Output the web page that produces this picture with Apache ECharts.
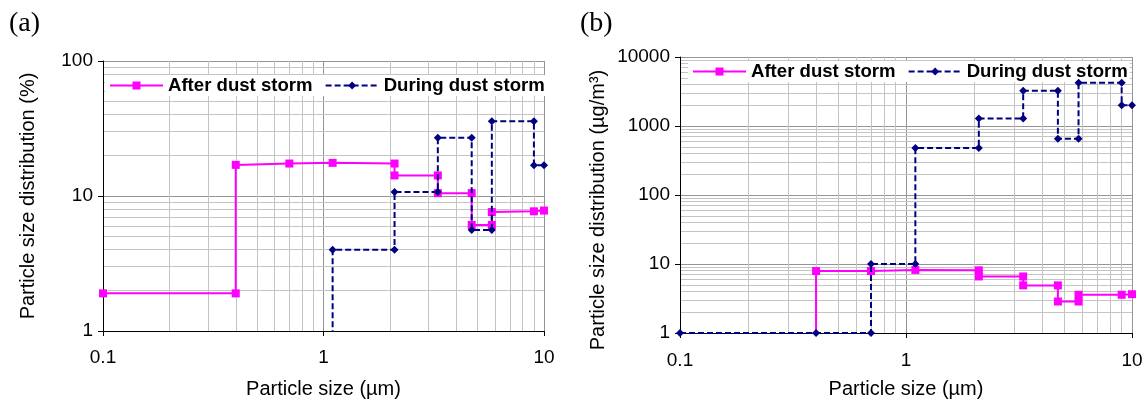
<!DOCTYPE html>
<html>
<head>
<meta charset="utf-8">
<script src="https://cdn.jsdelivr.net/npm/echarts@6/dist/echarts.min.js"></script>
<style>
html,body{margin:0;padding:0;background:#fff;}
#c{width:1148px;height:404px;}
</style>
</head>
<body>
<div id="c"></div>
<script>
// ---- Data ----
const seriesNames = ['After dust storm', 'During dust storm'];

// Panel (a): percentage distribution
const afterA_x  = [0.1, 0.4, 0.4, 0.7, 1.1, 2.1, 2.1, 3.3, 3.3, 4.7, 4.7, 5.8, 5.8, 9, 10];
const afterA_y  = [1.9, 1.9, 17.0, 17.4, 17.6, 17.4, 14.2, 14.2, 10.5, 10.5, 6.1, 6.1, 7.6, 7.7, 7.8];
const duringA_x = [0.1, 0.4, 0.7, 0.7, 1.1, 1.1, 2.1, 2.1, 3.3, 3.3, 4.7, 4.7, 5.8, 5.8, 9, 9, 10];
const duringA_y = [0.0085, 0.0085, 0.0085, 0.085, 0.085, 4.0, 4.0, 10.7, 10.7, 27.0, 27.0, 5.6, 5.6, 35.8, 35.8, 16.9, 16.9];

// Panel (b): mass concentration (µg/m³)
const afterB_x  = [0.1, 0.4, 0.4, 0.7, 1.1, 2.1, 2.1, 3.3, 3.3, 4.7, 4.7, 5.8, 5.8, 9, 10];
const afterB_y  = [0.9, 0.9, 7.9, 7.9, 8.2, 8.1, 6.6, 6.6, 4.9, 4.9, 2.86, 2.86, 3.58, 3.58, 3.65];
const duringB_x = [0.1, 0.4, 0.7, 0.7, 1.1, 1.1, 2.1, 2.1, 3.3, 3.3, 4.7, 4.7, 5.8, 5.8, 9, 9, 10];
const duringB_y = [1, 1, 1, 10, 10, 478, 478, 1280, 1280, 3230, 3230, 654, 654, 4230, 4230, 2000, 2000];

// Tick ranges
const xRange  = [0.1, 10];
const yRangeA = [1, 100];
const yRangeB = [1, 10000];

// ---- helpers ----
function pairs(xs, ys){ return xs.map((x,i)=>[x, ys[i]]); }
function minorValues(lo, hi){
  const out = [];
  for (let d = lo; d < hi - 1e-12; d *= 10) {
    for (let k = 2; k <= 9; k++) out.push(+(k*d).toPrecision(6));
  }
  return out;
}
const fmt = v => String(+(+v).toPrecision(6));

const FONT = '"Liberation Sans", Arial, sans-serif';
const SERIF = '"Liberation Serif", "Times New Roman", serif';
const MAJOR = '#959595';
const MINOR = '#c4c4c4';

function xAxisCfg(gridIndex, margin, gap){
  return {
    type:'log', logBase:10, gridIndex, min:xRange[0], max:xRange[1],
    name:'Particle size (µm)', nameLocation:'middle', nameGap:gap,
    nameTextStyle:{fontFamily:FONT, fontSize:20, color:'#000'},
    axisLine:{show:true, onZero:false, lineStyle:{color:'#000', width:1}},
    axisTick:{show:true, inside:false, length:5, lineStyle:{color:'#000'}},
    axisLabel:{fontFamily:FONT, fontSize:19, color:'#000', margin, formatter:fmt},
    splitLine:{show:true, lineStyle:{color:MAJOR, width:1}},
    minorTick:{show:false}, minorSplitLine:{show:false}
  };
}
function yAxisCfg(gridIndex, range, name, gap, pad){
  return {
    type:'log', logBase:10, gridIndex, min:range[0], max:range[1],
    name, nameLocation:'middle', nameGap:gap, nameRotate:90,
    nameTextStyle:{fontFamily:FONT, fontSize:20, color:'#000', padding:pad},
    axisLine:{show:true, onZero:false, lineStyle:{color:'#000', width:1}},
    axisTick:{show:true, inside:false, length:5, lineStyle:{color:'#000'}},
    axisLabel:{fontFamily:FONT, fontSize:19, color:'#000', margin:10, formatter:fmt},
    splitLine:{show:true, lineStyle:{color:MAJOR, width:1}}
  };
}
function gridLinesSeries(idx, yRange){
  const data = [];
  minorValues(xRange[0], xRange[1]).forEach(v => data.push({xAxis:v}));
  minorValues(yRange[0], yRange[1]).forEach(v => data.push({yAxis:v}));
  return {
    type:'line', xAxisIndex:idx, yAxisIndex:idx, data:[], z:0, silent:true,
    markLine:{silent:true, z:0, zlevel:0, symbol:['none','none'], animation:false,
      label:{show:false}, emphasis:{disabled:true},
      lineStyle:{color:MINOR, width:1, type:'solid'}, data}
  };
}
function afterSeries(idx, xs, ys){
  return {
    name:seriesNames[0], type:'line', xAxisIndex:idx, yAxisIndex:idx, z:6,
    data:pairs(xs, ys), symbol:'rect', symbolSize:8, showAllSymbol:true,
    lineStyle:{color:'#ff00ff', width:2, type:'solid'},
    itemStyle:{color:'#ff00ff'}, clip:true
  };
}
function duringSeries(idx, xs, ys){
  return {
    name:seriesNames[1], type:'line', xAxisIndex:idx, yAxisIndex:idx, z:7,
    data:pairs(xs, ys), symbol:'diamond', symbolSize:8, showAllSymbol:true,
    lineStyle:{color:'#000080', width:2, type:[6,3]},
    itemStyle:{color:'#000080'}, clip:true
  };
}
function legendCfg(left, top){
  return {
    data:seriesNames, left, top, orient:'horizontal', z:3,
    itemWidth:53, itemHeight:10, itemGap:12, padding:[1,2,1,4],
    backgroundColor:'#fff',
    textStyle:{fontFamily:FONT, fontSize:18.6, fontWeight:'bold', color:'#000'},
    selectedMode:false
  };
}

const chart = echarts.init(document.getElementById('c'), null, {renderer:'canvas'});
chart.setOption({
  animation:false,
  backgroundColor:'#fff',
  title:[
    {text:'(a)', left:9, top:10, padding:0, textStyle:{fontFamily:SERIF, fontSize:28, fontWeight:'normal', color:'#000'}},
    {text:'(b)', left:580, top:10, padding:0, textStyle:{fontFamily:SERIF, fontSize:28, fontWeight:'normal', color:'#000'}}
  ],
  legend:[ legendCfg(105, 75), legendCfg(688, 61) ],
  grid:[
    {left:103, top:61, width:441, height:276, containLabel:false},
    {left:680, top:57, width:452, height:276, containLabel:false}
  ],
  xAxis:[ xAxisCfg(0, 17, 48), xAxisCfg(1, 18, 46) ],
  yAxis:[
    yAxisCfg(0, yRangeA, 'Particle size distribution (%)', 65, [0,0,0,0]),
    yAxisCfg(1, yRangeB, 'Particle size distribution (µg/m³)', 72, [0,30,0,0])
  ],
  series:[
    gridLinesSeries(0, yRangeA),
    gridLinesSeries(1, yRangeB),
    afterSeries(0, afterA_x, afterA_y),
    duringSeries(0, duringA_x, duringA_y),
    afterSeries(1, afterB_x, afterB_y),
    duringSeries(1, duringB_x, duringB_y)
  ]
});
</script>
</body>
</html>
